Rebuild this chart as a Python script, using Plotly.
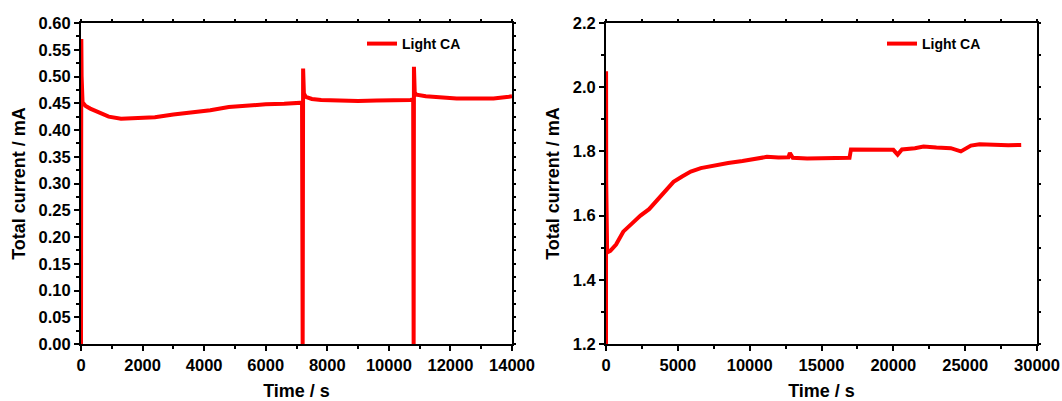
import plotly.graph_objects as go

# Left panel: Light CA, 0-14000 s
t_left = [0, 10, 20, 50, 150, 300, 600, 900, 1300, 1800, 2400, 3000, 3600, 4200, 4800, 5400,
          6000, 6600, 7000, 7180, 7200, 7205, 7215, 7240, 7300, 7500, 7800, 8400, 9000, 9600,
          10200, 10700, 10790, 10800, 10805, 10815, 10840, 10900, 11200, 11600, 12200, 12800,
          13400, 13900, 14000]
i_left = [0.0, 0.57, 0.50, 0.452, 0.445, 0.44, 0.432, 0.425, 0.421, 0.422, 0.424, 0.429, 0.433,
          0.437, 0.443, 0.446, 0.448, 0.449, 0.450, 0.451, 0.0, 0.0, 0.515, 0.468, 0.462, 0.458,
          0.456, 0.455, 0.454, 0.455, 0.455, 0.456, 0.457, 0.0, 0.0, 0.518, 0.470, 0.466, 0.463,
          0.461, 0.459, 0.459, 0.459, 0.462, 0.463]

# Right panel: Light CA, 0-30000 s
t_right = [0, 5, 15, 80, 300, 700, 1200, 1800, 2400, 3000, 3500, 4000, 4700, 5300, 5900, 6600,
           7500, 8500, 9500, 10500, 11200, 12000, 12700, 12800, 13000, 14000, 15000, 16000,
           16950, 17050, 18000, 19000, 20000, 20300, 20600, 21500, 22100, 23000, 24000, 24700,
           25400, 26000, 27000, 28000, 28900]
i_right = [1.2, 2.05, 1.70, 1.485, 1.49, 1.51, 1.55, 1.575, 1.60, 1.62, 1.645, 1.67, 1.705,
           1.722, 1.737, 1.748, 1.757, 1.764, 1.770, 1.776, 1.783, 1.781, 1.782, 1.795, 1.780,
           1.778, 1.778, 1.779, 1.780, 1.806, 1.806, 1.806, 1.805, 1.790, 1.806, 1.810, 1.815,
           1.812, 1.810, 1.800, 1.818, 1.822, 1.820, 1.819, 1.820]

RED = "#ff0000"
FONT = "Liberation Sans, Arial, sans-serif"

fig = go.Figure()
fig.add_trace(go.Scatter(x=t_left, y=i_left, mode="lines", name="Light CA",
                         line=dict(color=RED, width=4), xaxis="x", yaxis="y",
                         legend="legend"))
fig.add_trace(go.Scatter(x=t_right, y=i_right, mode="lines", name="Light CA",
                         line=dict(color=RED, width=4), xaxis="x2", yaxis="y2",
                         legend="legend2"))
# empty helper traces so the mirrored tick axes get drawn
for xa, ya in (("x3", "y3"), ("x4", "y4")):
    fig.add_trace(go.Scatter(x=[None], y=[None], mode="lines", xaxis=xa, yaxis=ya,
                             showlegend=False, hoverinfo="skip"))

W, H = 1062, 401
dom_y = [1 - 344 / H, 1 - 23 / H]
dom_x1 = [81 / W, 512 / W]
dom_x2 = [606 / W, 1037 / W]

tickfont = dict(family=FONT, size=16.5, color="black", weight="bold")
titlefont = dict(family=FONT, size=18, color="black", weight="bold")

def xax(domain, rng, dtick, anchor):
    return dict(domain=domain, range=rng, dtick=dtick, anchor=anchor, tickformat="d",
                automargin=False,
                showline=True, linewidth=2, linecolor="black", mirror=True,
                ticks="outside", ticklen=5, tickwidth=2, tickcolor="black",
                minor=dict(ticks="outside", ticklen=3, tickwidth=1.5, tickcolor="black",
                           dtick=dtick / 2),
                showgrid=False, zeroline=False, tickfont=tickfont,
                title=dict(text="Time / s", font=titlefont, standoff=14))

def yax(domain, rng, dtick, anchor, fmt):
    return dict(domain=domain, range=rng, dtick=dtick, anchor=anchor, tickformat=fmt,
                automargin=False,
                showline=True, linewidth=2, linecolor="black", mirror=True,
                ticks="outside", ticklen=5, tickwidth=2, tickcolor="black",
                minor=dict(ticks="outside", ticklen=3, tickwidth=1.5, tickcolor="black",
                           dtick=dtick / 2),
                showgrid=False, zeroline=False, tickfont=tickfont,
                title=dict(text="Total current / mA", font=titlefont, standoff=8))

def mirror_ax(overlay, anchor, side, rng, dtick):
    return dict(overlaying=overlay, anchor=anchor, side=side, range=rng, dtick=dtick / 2,
                automargin=False, showticklabels=False, showline=False, showgrid=False,
                zeroline=False, ticks="outside", ticklen=3, tickwidth=1.5, tickcolor="black",
                fixedrange=True)

leg_font = dict(family=FONT, size=14, color="black", weight="bold")

fig.update_layout(
    width=W, height=H,
    margin=dict(l=0, r=0, t=0, b=0, autoexpand=False),
    paper_bgcolor="white", plot_bgcolor="white",
    showlegend=True,
    xaxis=xax(dom_x1, [0, 14000], 2000, "y"),
    yaxis=yax(dom_y, [0, 0.60], 0.05, "x", ".2f"),
    xaxis2=xax(dom_x2, [0, 30000], 5000, "y2"),
    yaxis2=yax(dom_y, [1.2, 2.2], 0.2, "x2", ".1f"),
    xaxis3=mirror_ax("x", "y", "top", [0, 14000], 2000),
    yaxis3=mirror_ax("y", "x", "right", [0, 0.60], 0.05),
    xaxis4=mirror_ax("x2", "y2", "top", [0, 30000], 5000),
    yaxis4=mirror_ax("y2", "x2", "right", [1.2, 2.2], 0.2),
    legend=dict(x=362 / W, y=1 - 28 / H, xanchor="left", yanchor="top",
                bgcolor="rgba(0,0,0,0)", borderwidth=0, itemwidth=30, font=leg_font),
    legend2=dict(x=882 / W, y=1 - 28 / H, xanchor="left", yanchor="top",
                 bgcolor="rgba(0,0,0,0)", borderwidth=0, itemwidth=30, font=leg_font),
)

fig.write_html("out.html")
